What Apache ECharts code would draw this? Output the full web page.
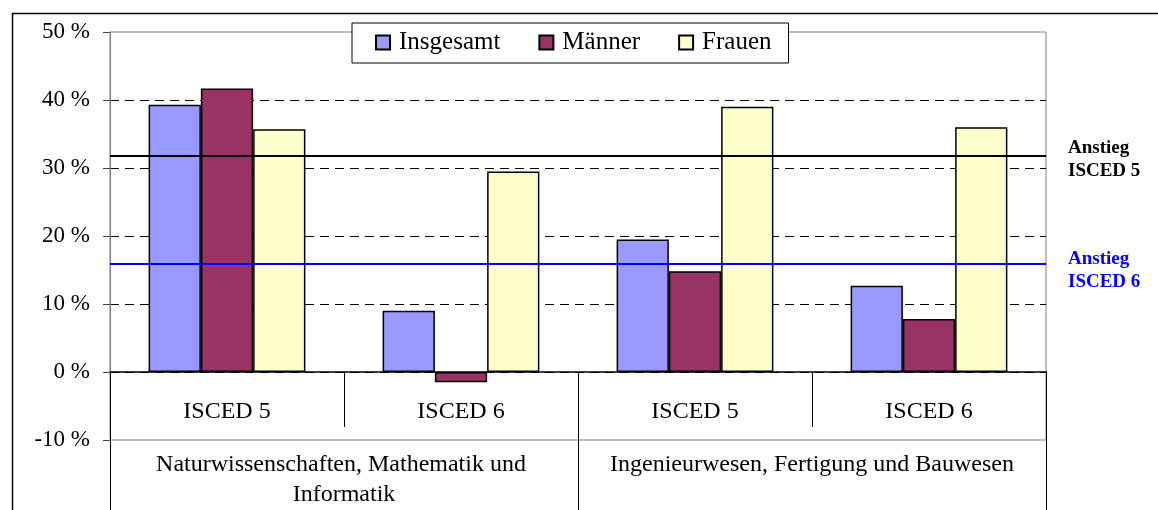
<!DOCTYPE html>
<html>
<head>
<meta charset="utf-8">
<script src="https://cdn.jsdelivr.net/npm/echarts@6/dist/echarts.min.js"></script>
<style>
  html, body { margin: 0; padding: 0; background: #fff; }
  #chart { width: 1158px; height: 510px; }
</style>
</head>
<body>
<div id="chart"></div>
<script>
// categories
const levels = ["ISCED 5", "ISCED 6", "ISCED 5", "ISCED 6"];
const fields = [
  "Naturwissenschaften, Mathematik und Informatik",
  "Ingenieurwesen, Fertigung und Bauwesen",
];

// series values (%)
const insgesamt = [39.3, 9.0, 19.5, 12.7];
const maenner = [41.7, -1.5, 14.8, 7.8];
const frauen = [35.7, 29.5, 39.0, 36.0];

// reference lines (%)
const anstiegIsced5 = 31.8;
const anstiegIsced6 = 15.9;

const font = "Liberation Serif";
const chart = echarts.init(document.getElementById("chart"));

const barStyle = (color) => ({
  color: color,
  borderColor: "#000",
  borderWidth: 1.5,
});

// the category axes sit on the 0 % line, one step (10 %) above the plot bottom
const zeroOffset = -68;

const option = {
  animation: false,
  textStyle: { fontFamily: font },
  graphic: [
    {
      type: "rect",
      left: 10,
      top: 11,
      shape: { width: 1300, height: 600 },
      style: { fill: "none", stroke: "#000", lineWidth: 1.5 },
      silent: true,
      z: 0,
    },
  ],
  legend: {
    left: 352,
    top: 23,
    padding: [7, 17, 8, 23],
    itemGap: 38,
    itemWidth: 14,
    itemHeight: 14,
    backgroundColor: "#fff",
    borderColor: "#000",
    borderWidth: 1,
    icon: "rect",
    textStyle: {
      fontFamily: font,
      fontSize: 25,
      color: "#000",
      padding: [0, 0, 0, 4],
    },
    z: 10,
  },
  grid: {
    left: 110,
    right: 112,
    top: 32,
    bottom: 70,
    containLabel: false,
    outerBoundsMode: "none",
    show: true,
    borderColor: "#808080",
    borderWidth: 1,
  },
  xAxis: [
    {
      type: "category",
      data: levels,
      position: "bottom",
      offset: zeroOffset,
      axisLine: { onZero: false, lineStyle: { color: "#000", width: 1.5 } },
      axisTick: {
        show: true,
        interval: 0,
        length: 55,
        lineStyle: { color: "#000", width: 1 },
      },
      axisLabel: {
        interval: 0,
        margin: 28,
        fontFamily: font,
        fontSize: 24,
        color: "#000",
      },
      splitLine: { show: false },
    },
    {
      type: "category",
      data: fields,
      position: "bottom",
      offset: zeroOffset,
      axisLine: { onZero: false, show: false },
      axisTick: {
        show: true,
        interval: 0,
        length: 138,
        lineStyle: { color: "#000", width: 1 },
      },
      axisLabel: {
        interval: 0,
        margin: 78,
        width: 460,
        overflow: "break",
        lineHeight: 30,
        fontFamily: font,
        fontSize: 24,
        color: "#000",
      },
      splitLine: { show: false },
    },
  ],
  yAxis: {
    type: "value",
    min: -10,
    max: 50,
    interval: 10,
    axisLine: { show: true, lineStyle: { color: "#808080", width: 1 } },
    axisTick: { show: true, length: 7, lineStyle: { color: "#444" } },
    axisLabel: {
      formatter: (v) => v + " %",
      margin: 20,
      fontFamily: font,
      fontSize: 23,
      color: "#000",
    },
    splitLine: {
      show: true,
      showMinLine: false,
      showMaxLine: false,
      lineStyle: { color: "#000", type: [9, 6], width: 1 },
    },
  },
  series: [
    {
      name: "Insgesamt",
      type: "bar",
      data: insgesamt,
      barGap: "0%",
      barCategoryGap: "33%",
      itemStyle: barStyle("#9999FF"),
      markLine: {
        silent: true,
        symbol: ["none", "none"],
        label: {
          show: true,
          position: "end",
          distance: 22,
          fontFamily: font,
          fontSize: 19,
          fontWeight: "bold",
          lineHeight: 23,
        },
        data: [
          {
            yAxis: anstiegIsced5,
            lineStyle: { color: "#000", width: 2, type: "solid" },
            label: {
              formatter: "Anstieg\nISCED 5",
              color: "#000",
              offset: [0, 4],
            },
          },
          {
            yAxis: anstiegIsced6,
            lineStyle: { color: "#0000FF", width: 2, type: "solid" },
            label: {
              formatter: "Anstieg\nISCED 6",
              color: "#0000FF",
              offset: [0, 7],
            },
          },
        ],
      },
    },
    {
      name: "Männer",
      type: "bar",
      data: maenner,
      barGap: "0%",
      barCategoryGap: "33%",
      itemStyle: barStyle("#993366"),
    },
    {
      name: "Frauen",
      type: "bar",
      data: frauen,
      barGap: "0%",
      barCategoryGap: "33%",
      itemStyle: barStyle("#FFFFCC"),
    },
  ],
};

chart.setOption(option);
window.addEventListener("resize", () => {
  chart && chart.resize();
});
</script>
</body>
</html>
